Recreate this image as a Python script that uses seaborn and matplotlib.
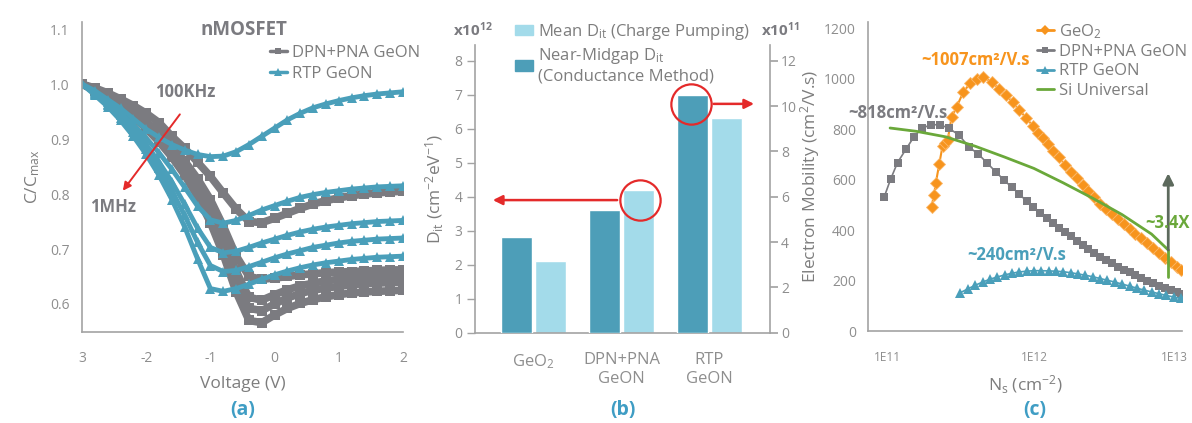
import numpy as np
import pandas as pd
import matplotlib
matplotlib.use("Agg")
import matplotlib.pyplot as plt
import matplotlib.transforms as mtransforms
from matplotlib.lines import Line2D
from matplotlib.patches import Patch
from matplotlib.ticker import FixedLocator, LogLocator, NullFormatter
import seaborn as sns

sns.set_theme(style="white")
plt.rcParams["font.family"] = ["Open Sans", "DejaVu Sans"]
plt.rcParams["mathtext.default"] = "regular"

TEAL = "#4a9fba"
GRAY = "#7b7b80"
ORANGE = "#f7941d"
GREEN = "#6aa83a"
RED = "#e42a2a"
TICK = "#8e8e8e"
LABEL = "#7d7d7d"
SPINE = "#a3a3a3"
PANEL = "#3f9dc4"
BAR_DARK = "#4d9eb8"
BAR_LIGHT = "#a3dbea"

FS_TICK = 10
FS_LABEL = 12.5
FS_LEGEND = 12
FS_NOTE = 12

# ---------------- (a) C-V curves, 100 kHz .. 1 MHz ----------------
voltage = [-3.0, -2.8, -2.6, -2.4, -2.2, -2.0, -1.8, -1.6, -1.4, -1.2, -1.0, -0.8, -0.6,
           -0.4, -0.2, 0.0, 0.2, 0.4, 0.6, 0.8, 1.0, 1.2, 1.4, 1.6, 1.8, 2.0]

dpn_c1 = [1.0, 0.993, 0.984, 0.973, 0.961, 0.947, 0.930, 0.905, 0.883, 0.858, 0.832, 0.802, 0.773,
          0.750, 0.748, 0.756, 0.765, 0.774, 0.782, 0.788, 0.793, 0.797, 0.800, 0.802, 0.804, 0.805]
dpn_c2 = [1.0, 0.990, 0.978, 0.965, 0.950, 0.932, 0.912, 0.888, 0.860, 0.828, 0.790, 0.742, 0.688,
          0.650, 0.645, 0.647, 0.650, 0.653, 0.655, 0.657, 0.658, 0.659, 0.660, 0.661, 0.662, 0.662]
dpn_c3 = [1.0, 0.990, 0.977, 0.963, 0.947, 0.928, 0.906, 0.880, 0.850, 0.815, 0.772, 0.720, 0.660,
          0.612, 0.607, 0.617, 0.626, 0.633, 0.638, 0.642, 0.645, 0.647, 0.649, 0.650, 0.651, 0.652]
dpn_c4 = [1.0, 0.989, 0.976, 0.961, 0.944, 0.924, 0.901, 0.874, 0.842, 0.805, 0.760, 0.704, 0.640,
          0.592, 0.588, 0.600, 0.611, 0.619, 0.625, 0.629, 0.632, 0.635, 0.637, 0.638, 0.639, 0.640]
dpn_c5 = [1.0, 0.988, 0.974, 0.958, 0.940, 0.919, 0.895, 0.867, 0.834, 0.795, 0.748, 0.690, 0.622,
          0.570, 0.566, 0.580, 0.592, 0.601, 0.608, 0.613, 0.617, 0.620, 0.622, 0.623, 0.624, 0.625]

rtp_c1 = [1.0, 0.988, 0.972, 0.956, 0.937, 0.918, 0.903, 0.890, 0.880, 0.872, 0.868, 0.869, 0.877,
          0.890, 0.905, 0.920, 0.935, 0.947, 0.957, 0.964, 0.970, 0.975, 0.979, 0.982, 0.984, 0.986]
rtp_c2 = [1.0, 0.985, 0.968, 0.948, 0.926, 0.902, 0.875, 0.845, 0.812, 0.778, 0.753, 0.747, 0.752,
          0.761, 0.771, 0.779, 0.787, 0.794, 0.799, 0.803, 0.806, 0.809, 0.811, 0.813, 0.814, 0.815]
rtp_c3 = [1.0, 0.983, 0.964, 0.943, 0.918, 0.890, 0.858, 0.822, 0.781, 0.738, 0.703, 0.693, 0.696,
          0.703, 0.711, 0.718, 0.725, 0.731, 0.736, 0.740, 0.743, 0.746, 0.748, 0.750, 0.751, 0.752]
rtp_c4 = [1.0, 0.982, 0.962, 0.939, 0.912, 0.882, 0.847, 0.806, 0.761, 0.712, 0.670, 0.659, 0.661,
          0.668, 0.676, 0.684, 0.691, 0.697, 0.703, 0.707, 0.711, 0.714, 0.716, 0.718, 0.719, 0.720]
rtp_c5 = [1.0, 0.980, 0.959, 0.934, 0.905, 0.872, 0.834, 0.790, 0.740, 0.682, 0.628, 0.623, 0.628,
          0.636, 0.645, 0.653, 0.660, 0.666, 0.671, 0.675, 0.678, 0.681, 0.683, 0.685, 0.686, 0.687]

v_ticks = [-3, -2, -1, 0, 1, 2]
v_tick_labels = ["3", "-2", "-1", "0", "1", "2"]
c_ticks = [0.6, 0.7, 0.8, 0.9, 1.0, 1.1]

# ---------------- (b) interface trap density ----------------
materials = ["GeO$_2$", "DPN+PNA\nGeON", "RTP\nGeON"]
dit_charge_pumping = [2.1, 4.2, 6.3]      # x1e12, left axis
dit_conductance = [4.2, 5.4, 10.5]        # x1e11, right axis
label_cp = "Mean D$_{it}$ (Charge Pumping)"
label_cond = "Near-Midgap D$_{it}$\n(Conductance Method)"

# ---------------- (c) electron mobility vs Ns (Ns in 1e11 cm^-2) ----------------
ns_geo2 = [2.01, 2.09, 2.15, 2.27, 2.39, 2.49, 2.59, 2.75, 2.98, 3.30, 3.67, 4.07, 4.52, 5.15, 5.78,
           6.46, 7.16, 7.94, 8.83, 9.79, 10.6, 11.5, 12.4, 13.4, 14.8, 16.2, 17.8, 19.5, 21.4, 23.4,
           25.7, 28.2, 30.9, 33.9, 37.2, 40.7, 44.7, 49.0, 53.7, 58.9, 64.6, 70.8, 77.6, 85.1, 93.3, 100]
mu_geo2 = [493, 540, 588, 663, 735, 747, 758, 847, 889, 946, 982, 1000, 1007, 987, 961,
           935, 907, 876, 846, 814, 787, 764, 741, 715, 690, 660, 632, 606, 580, 555,
           530, 506, 483, 466, 446, 426, 406, 387, 368, 349, 330, 311, 292, 274, 256, 244]

ns_dpn = [0.959, 1.06, 1.18, 1.35, 1.53, 1.73, 1.99, 2.30, 2.64, 3.09, 3.61, 4.18, 4.81, 5.51, 6.25,
          7.08, 7.94, 8.91, 9.89, 11.0, 12.2, 13.5, 14.8, 16.2, 17.8, 19.5, 21.4, 23.4, 25.7, 28.2,
          30.9, 33.9, 37.2, 40.7, 44.7, 49.0, 53.7, 58.9, 64.6, 70.8, 77.6, 85.1, 93.3, 100]
mu_dpn = [533, 603, 668, 722, 771, 804, 818, 818, 804, 777, 730, 702, 666, 631, 599,
          570, 544, 515, 491, 467, 448, 428, 410, 393, 376, 359, 342, 326, 310, 296,
          282, 269, 256, 244, 233, 222, 211, 200, 190, 180, 171, 162, 154, 148]

ns_rtp = [3.16, 3.55, 3.98, 4.47, 5.01, 5.62, 6.31, 7.08, 7.94, 8.91, 10.0, 11.2, 12.6, 14.1, 15.8,
          17.8, 20.0, 22.4, 25.1, 28.2, 31.6, 35.5, 39.8, 44.7, 50.1, 56.2, 63.1, 70.8, 79.4, 89.1, 100]
mu_rtp = [153, 168, 182, 195, 206, 215, 223, 230, 235, 238, 240, 240, 239, 238, 236,
          232, 227, 222, 216, 209, 202, 195, 187, 179, 171, 163, 156, 149, 142, 136, 130]

ns_si = [1.05, 1.58, 2.51, 3.98, 6.31, 10.0, 15.8, 25.1, 39.8, 63.1, 82.0]
mu_si = [805, 792, 770, 733, 690, 645, 588, 527, 462, 385, 322]

ns_gap = 82.0                 # where the enhancement arrow sits
mu_gap = [216, 322, 626]      # green segment bottom, Si value, arrow tip

NS_UNIT = 1e11

fig = plt.figure(figsize=(11.92, 4.23), dpi=100)


def style_axis(ax):
    for side in ("top", "right"):
        ax.spines[side].set_visible(False)
    for side in ("left", "bottom"):
        ax.spines[side].set_color(SPINE)
        ax.spines[side].set_linewidth(1.2)
    ax.tick_params(axis="both", which="both", colors=SPINE, labelcolor=TICK,
                   direction="out", width=1.0)
    ax.tick_params(axis="x", which="major", length=8, labelsize=FS_TICK, pad=6)
    ax.tick_params(axis="y", which="major", length=6, labelsize=FS_TICK, pad=3)


# ===== (a) =====
ax_a = fig.add_axes([0.0688, 0.2151, 0.2693, 0.7329])
for vals in (dpn_c1, dpn_c2, dpn_c3, dpn_c4, dpn_c5):
    sns.lineplot(x=voltage, y=vals, ax=ax_a, color=GRAY, linewidth=5.5, marker="s",
                 markersize=6.5, markeredgewidth=0, estimator=None, sort=False, legend=False)
for vals in (rtp_c1, rtp_c2, rtp_c3, rtp_c4, rtp_c5):
    sns.lineplot(x=voltage, y=vals, ax=ax_a, color=TEAL, linewidth=3.5, marker="^",
                 markersize=7.5, markeredgewidth=0, estimator=None, sort=False, legend=False)
ax_a.set_xlim(-3, 2)
ax_a.set_ylim(0.549, 1.113)
ax_a.set_xticks(v_ticks, labels=v_tick_labels)
ax_a.set_yticks(c_ticks, labels=[f"{c:.1f}" for c in c_ticks])
style_axis(ax_a)
ax_a.set_xlabel("Voltage (V)", color=LABEL, fontsize=FS_LABEL, labelpad=7)
ax_a.set_ylabel("C/C$_{max}$", color=LABEL, fontsize=FS_LABEL, labelpad=6)
ax_a.text(-0.48, 1.098, "nMOSFET", color=GRAY, fontsize=13.5, fontweight="bold",
          ha="center", va="center")
ax_a.text(-1.39, 0.985, "100KHz", color=GRAY, fontsize=FS_NOTE, fontweight="bold",
          ha="center", va="center")
ax_a.text(-2.52, 0.776, "1MHz", color=GRAY, fontsize=FS_NOTE, fontweight="bold",
          ha="center", va="center")
ax_a.annotate("", xy=(-2.39, 0.802), xytext=(-1.45, 0.949),
              arrowprops=dict(arrowstyle="-|>", color=RED, lw=1.4, mutation_scale=12))
handles_a = [Line2D([], [], color=GRAY, lw=2.5, marker="s", ms=5, mew=0),
             Line2D([], [], color=TEAL, lw=2.5, marker="^", ms=6, mew=0)]
fig.legend(handles_a, ["DPN+PNA GeON", "RTP GeON"], loc="upper left",
           bbox_to_anchor=(270 / 1192, 1 - 45 / 423), frameon=False, fontsize=FS_LEGEND,
           handlelength=1.0, handletextpad=0.3, labelspacing=0.3, borderpad=0,
           borderaxespad=0, labelcolor=LABEL)

# ===== (b) =====
ax_b = fig.add_axes([0.3985, 0.2135, 0.2475, 0.680])
df_cp = pd.DataFrame({"material": materials, "dit": dit_charge_pumping, "method": label_cp})
df_cond = pd.DataFrame({"material": materials, "dit": dit_conductance, "method": label_cond})
bar_palette = {label_cond: BAR_DARK, label_cp: BAR_LIGHT}
hue_levels = [label_cond, label_cp]
sns.barplot(data=df_cp, x="material", y="dit", hue="method", hue_order=hue_levels,
            palette=bar_palette, width=0.76, gap=0.075, dodge=True, saturation=1,
            ax=ax_b, legend=False)
ax_r = ax_b.twinx()
sns.barplot(data=df_cond, x="material", y="dit", hue="method", hue_order=hue_levels,
            palette=bar_palette, width=0.76, gap=0.075, dodge=True, saturation=1,
            ax=ax_r, legend=False)
xlim_b = (-0.665, 2.69)
for ax in (ax_b, ax_r):
    ax.set_xlim(*xlim_b)
    ax.set_xlabel("")
ax_b.set_ylim(0, 8.46)
ax_r.set_ylim(0, 8.46 * 1.5)
ax_b.set_yticks(range(0, 9))
ax_r.set_yticks(range(0, 13, 2))
style_axis(ax_b)
ax_b.set_xticks([0, 1, 2], labels=materials)
ax_b.set_xticks([xlim_b[0], 0.494, 1.517, xlim_b[1]], minor=True)
ax_b.tick_params(axis="x", which="major", length=0, labelsize=12, pad=14)
ax_b.tick_params(axis="x", which="minor", length=8, color=SPINE, width=1.0)
for s in ax_r.spines.values():
    s.set_visible(False)
ax_r.spines["right"].set_visible(True)
ax_r.spines["right"].set_color(SPINE)
ax_r.spines["right"].set_linewidth(1.2)
ax_r.tick_params(axis="y", colors=SPINE, labelcolor=TICK, direction="out",
                 length=6, labelsize=FS_TICK, pad=2)
ax_r.set_ylabel("")
ax_b.set_ylabel("D$_{it}$ (cm$^{-2}$eV$^{-1}$)", color=LABEL, fontsize=FS_LABEL, labelpad=6)
fig.text(473 / 1192, 1 - 30 / 423, "x10$^{12}$", color=GRAY, fontsize=11,
         fontweight="bold", ha="center", va="center")
fig.text(780 / 1192, 1 - 30 / 423, "x10$^{11}$", color=GRAY, fontsize=11,
         fontweight="bold", ha="center", va="center")
# red markers tying each bar set to its axis (drawn in right-axis units)
for cx, cy in ((1.21, 3.90 * 1.5), (1.79, 6.73 * 1.5)):
    ax_r.plot([cx], [cy], marker="o", ms=29, mfc="none", mec=RED, mew=1.6, ls="none",
              clip_on=False)
ax_r.annotate("", xy=(-0.494, 3.90 * 1.5), xytext=(0.983, 3.90 * 1.5),
              arrowprops=dict(arrowstyle="-|>", color=RED, lw=1.8, mutation_scale=14))
ax_r.annotate("", xy=(2.54, 6.73 * 1.5), xytext=(2.017, 6.73 * 1.5),
              arrowprops=dict(arrowstyle="-|>", color=RED, lw=1.8, mutation_scale=14),
              annotation_clip=False)
handles_b = [Patch(color=BAR_LIGHT), Patch(color=BAR_DARK)]
fig.legend(handles_b, [label_cp, label_cond], loc="upper left",
           bbox_to_anchor=(515 / 1192, 1 - 22 / 423), frameon=False, fontsize=FS_LEGEND,
           handlelength=1.1, handleheight=0.6, handletextpad=0.3, labelspacing=0.25,
           borderpad=0, borderaxespad=0, labelcolor=LABEL)

# ===== (c) =====
ax_c = fig.add_axes([0.7284, 0.2168, 0.2629, 0.7319])
ax_c.set_xscale("log")
sns.lineplot(x=np.array(ns_geo2) * NS_UNIT, y=mu_geo2, ax=ax_c, color=ORANGE, linewidth=1.5,
             marker="D", markersize=6, markeredgecolor="#fbb86a", markeredgewidth=0.6,
             estimator=None, sort=False, legend=False)
sns.lineplot(x=np.array(ns_dpn) * NS_UNIT, y=mu_dpn, ax=ax_c, color=GRAY, linewidth=1.2,
             marker="s", markersize=6, markeredgewidth=0, estimator=None, sort=False,
             legend=False)
sns.lineplot(x=np.array(ns_rtp) * NS_UNIT, y=mu_rtp, ax=ax_c, color=TEAL, linewidth=1.2,
             marker="^", markersize=7, markeredgewidth=0, estimator=None, sort=False,
             legend=False)
sns.lineplot(x=np.array(ns_si) * NS_UNIT, y=mu_si, ax=ax_c, color=GREEN, linewidth=2.0,
             estimator=None, sort=False, legend=False)
ax_c.plot([ns_gap * NS_UNIT] * 2, mu_gap[:2], color=GREEN, lw=2.0)
ax_c.annotate("", xy=(ns_gap * NS_UNIT, mu_gap[2]), xytext=(ns_gap * NS_UNIT, mu_gap[1]),
              arrowprops=dict(arrowstyle="-|>", color="#5d6a5d", lw=2.0, mutation_scale=16,
                              shrinkA=0, shrinkB=0))
ax_c.set_xlim(7.46e10, 1.011e13)
ax_c.set_ylim(0, 1226)
ax_c.xaxis.set_major_locator(FixedLocator([1e11, 1e12, 1e13]))
ax_c.set_xticklabels(["1E11", "1E12", "1E13"])
ax_c.xaxis.set_minor_locator(LogLocator(base=10, subs=range(2, 10)))
ax_c.xaxis.set_minor_formatter(NullFormatter())
ax_c.set_yticks(range(0, 1201, 200))
style_axis(ax_c)
ax_c.tick_params(axis="x", which="minor", length=5)
ax_c.tick_params(axis="x", which="major", labelsize=8.5)
# keep the last decade label inside the canvas
last_lbl = ax_c.get_xticklabels()[-1]
last_lbl.set_transform(last_lbl.get_transform() +
                       mtransforms.ScaledTranslation(-7 / 100, 0, fig.dpi_scale_trans))
ax_c.set_xlabel("N$_s$ (cm$^{-2}$)", color=LABEL, fontsize=FS_LABEL, labelpad=7)
ax_c.set_ylabel("Electron Mobility (cm$^2$/V.s)", color=LABEL, fontsize=FS_LABEL)
ax_c.yaxis.set_label_coords(-0.148, 0.5)
ax_c.text(4.0e11, 1073, "~1007cm²/V.s", color=ORANGE, fontsize=FS_NOTE, fontweight="bold",
          ha="center", va="center")
ax_c.text(1.19e11, 866, "~818cm²/V.s", color=GRAY, fontsize=FS_NOTE, fontweight="bold",
          ha="center", va="center")
ax_c.text(7.6e11, 302, "~240cm²/V.s", color=TEAL, fontsize=FS_NOTE, fontweight="bold",
          ha="center", va="center")
ax_c.text(8.1e12, 428, "~3.4X", color=GREEN, fontsize=FS_NOTE, fontweight="bold",
          ha="center", va="center")
handles_c = [Line2D([], [], color=ORANGE, lw=2, marker="D", ms=5, mew=0),
             Line2D([], [], color=GRAY, lw=2, marker="s", ms=5, mew=0),
             Line2D([], [], color=TEAL, lw=2, marker="^", ms=6, mew=0),
             Line2D([], [], color=GREEN, lw=2)]
fig.legend(handles_c, ["GeO$_2$", "DPN+PNA GeON", "RTP GeON", "Si Universal"],
           loc="upper left", bbox_to_anchor=(1037 / 1192, 1 - 22 / 423), frameon=False,
           fontsize=FS_LEGEND, handlelength=1.0, handletextpad=0.3, labelspacing=0.2,
           borderpad=0, borderaxespad=0, labelcolor=LABEL)

# panel tags
for x_px, tag in ((243, "(a)"), (623, "(b)"), (1035, "(c)")):
    fig.text(x_px / 1192, 1 - 410 / 423, tag, color=PANEL, fontsize=14, fontweight="bold",
             ha="center", va="center")

fig.savefig("out.png", dpi=100)
